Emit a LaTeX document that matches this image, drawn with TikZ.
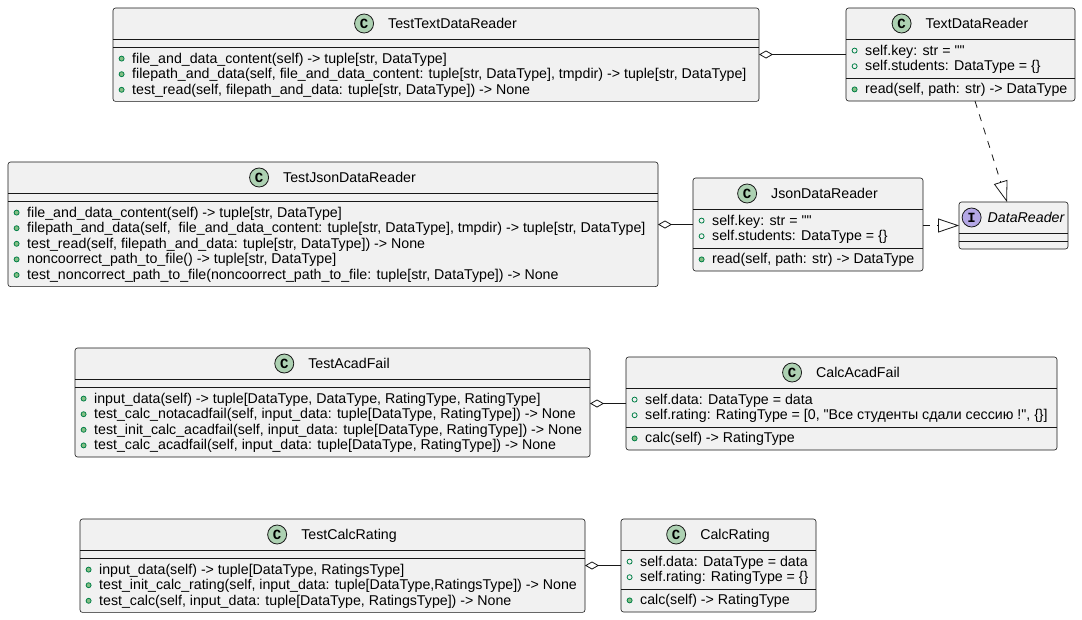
\documentclass[tikz,border=0pt]{standalone}
\usepackage{fontspec}
\newfontfamily\umlfont{Liberation Sans}
\newfontfamily\iconfont{Liberation Mono}
\usetikzlibrary{positioning,arrows.meta}

\definecolor{linecol}{HTML}{181818}
\definecolor{boxfill}{HTML}{F1F1F1}
\definecolor{cfill}{HTML}{ADD1B2}
\definecolor{ifill}{HTML}{B4A7E5}
\definecolor{memgreen}{HTML}{038048}
\definecolor{methfill}{HTML}{84BE84}

\begin{document}
\begin{tikzpicture}[
    x=1pt, y=-1pt,
    % define styles
    box/.style={
        draw=linecol, fill=boxfill, line width=0.6pt,
        rounded corners=2.5pt, anchor=north west,
        inner sep=0, outer sep=0
    },
    sep/.style={draw=linecol, line width=0.6pt},
    title/.style={
        font=\umlfont\fontsize{14.2}{16}\selectfont,
        inner sep=0, text height=9pt, text depth=0pt
    },
    cicon/.style={
        circle, draw=linecol, line width=0.8pt, fill=cfill,
        minimum size=19pt, inner sep=0,
        font=\iconfont\bfseries\fontsize{14}{14}\selectfont
    },
    iicon/.style={cicon, fill=ifill},
    member/.style={
        font=\umlfont\fontsize{14.2}{16}\selectfont,
        anchor=west, inner sep=0, text height=9pt, text depth=0pt
    },
    fdot/.style={circle, draw=memgreen, line width=0.8pt, minimum size=5pt,
        inner sep=0, label distance=7.5pt},
    mdot/.style={fdot, fill=methfill},
    field/.style={member, label={[fdot]left:{}}},
    meth/.style={member, label={[mdot]left:{}}},
    agg/.style={draw=linecol, line width=0.8pt,
        {Diamond[open, length=14pt, width=8pt]}-},
    real/.style={draw=linecol, line width=0.8pt, dash pattern=on 7pt off 7pt,
        -{Triangle[open, length=21pt, width=14pt]}}
]
\useasboundingbox (0,0) rectangle (1082,619);
\fill[white] (0,0) rectangle (1082,619);

% class boxes
\node[box, minimum width=646, minimum height=93.4] (ttdr) at (113,8) {};
\node[box, minimum width=229, minimum height=93] (tdr) at (846,8) {};
\node[box, minimum width=650, minimum height=124.6] (tjdr) at (8,162) {};
\node[box, minimum width=230, minimum height=93] (jdr) at (693,178) {};
\node[box, minimum width=109, minimum height=47] (dr) at (959,202) {};
\node[box, minimum width=515, minimum height=109] (taf) at (75,348) {};
\node[box, minimum width=431, minimum height=93] (caf) at (626,357) {};
\node[box, minimum width=505, minimum height=93.4] (tcr) at (80,519) {};
\node[box, minimum width=195, minimum height=93] (cr) at (621,519) {};

% section lines
\foreach \l/\r/\y in {113/759/39, 113/759/47, 846/1075/39, 846/1075/77.8,
    8/658/193, 8/658/201, 693/923/209, 693/923/247.8, 959/1068/233, 959/1068/241,
    75/590/379, 75/590/387, 626/1057/388, 626/1057/426.8,
    80/585/550, 80/585/558, 621/816/550, 621/816/588.8}
    \draw[sep] (\l,\y) -- (\r,\y);

% headers
\node[title] (ttdr-t) at ([xshift=16.5pt, yshift=-15.5pt]ttdr.north) {TestTextDataReader};
\node[cicon, left=14pt of ttdr-t] (ttdr-c) {C};
\node[title] (tdr-t) at ([xshift=16.5pt, yshift=-15.5pt]tdr.north) {TextDataReader};
\node[cicon, left=14pt of tdr-t] (tdr-c) {C};
\node[title] (tjdr-t) at ([xshift=16.5pt, yshift=-15.5pt]tjdr.north) {TestJsonDataReader};
\node[cicon, left=14pt of tjdr-t] (tjdr-c) {C};
\node[title] (jdr-t) at ([xshift=16.5pt, yshift=-15.5pt]jdr.north) {JsonDataReader};
\node[cicon, left=14pt of jdr-t] (jdr-c) {C};
\node[title, font=\umlfont\itshape\fontsize{14.2}{16}\selectfont] (dr-t)
    at ([xshift=12.5pt, yshift=-15.5pt]dr.north) {DataReader};
\node[iicon, left=6pt of dr-t] (dr-c) {I};
\node[title] (taf-t) at ([xshift=16.5pt, yshift=-15.5pt]taf.north) {TestAcadFail};
\node[cicon, left=14pt of taf-t] (taf-c) {C};
\node[title] (caf-t) at ([xshift=16.5pt, yshift=-15.5pt]caf.north) {CalcAcadFail};
\node[cicon, left=14pt of caf-t] (caf-c) {C};
\node[title] (tcr-t) at ([xshift=16.5pt, yshift=-15.5pt]tcr.north) {TestCalcRating};
\node[cicon, left=14pt of tcr-t] (tcr-c) {C};
\node[title] (cr-t) at ([xshift=16.5pt, yshift=-15.5pt]cr.north) {CalcRating};
\node[cicon, left=14pt of cr-t] (cr-c) {C};

% TestTextDataReader
\node[meth] (ttdr-m1) at (132,58.6) {file\_and\_data\_content(self) -> tuple[str, DataType]};
\node[meth] (ttdr-m2) at (132,74.2) {filepath\_and\_data(self, file\_and\_data\_content: tuple[str, DataType], tmpdir) -> tuple[str, DataType]};
\node[meth] (ttdr-m3) at (132,89.8) {test\_read(self, filepath\_and\_data: tuple[str, DataType]) -> None};

% TextDataReader
\node[field] (tdr-f1) at (865,50.6) {self.key: str = ""};
\node[field] (tdr-f2) at (865,66.2) {self.students: DataType = \{\}};
\node[meth] (tdr-m1) at (865,89.4) {read(self, path: str) -> DataType};

% TestJsonDataReader
\node[meth] (tjdr-m1) at (27,212.6) {file\_and\_data\_content(self) -> tuple[str, DataType]};
\node[meth] (tjdr-m2) at (27,228.2) {filepath\_and\_data(self,\ \ file\_and\_data\_content: tuple[str, DataType], tmpdir) -> tuple[str, DataType]};
\node[meth] (tjdr-m3) at (27,243.8) {test\_read(self, filepath\_and\_data: tuple[str, DataType]) -> None};
\node[meth] (tjdr-m4) at (27,259.4) {noncoorrect\_path\_to\_file() -> tuple[str, DataType]};
\node[meth] (tjdr-m5) at (27,275) {test\_noncorrect\_path\_to\_file(noncoorrect\_path\_to\_file: tuple[str, DataType]) -> None};

% JsonDataReader
\node[field] (jdr-f1) at (712,220.6) {self.key: str = ""};
\node[field] (jdr-f2) at (712,236.2) {self.students: DataType = \{\}};
\node[meth] (jdr-m1) at (712,259.4) {read(self, path: str) -> DataType};

% TestAcadFail
\node[meth] (taf-m1) at (94,398.6) {input\_data(self) -> tuple[DataType, DataType, RatingType, RatingType]};
\node[meth] (taf-m2) at (94,414.2) {test\_calc\_notacadfail(self, input\_data: tuple[DataType, RatingType]) -> None};
\node[meth] (taf-m3) at (94,429.8) {test\_init\_calc\_acadfail(self, input\_data: tuple[DataType, RatingType]) -> None};
\node[meth] (taf-m4) at (94,445.4) {test\_calc\_acadfail(self, input\_data: tuple[DataType, RatingType]) -> None};

% CalcAcadFail
\node[field] (caf-f1) at (645,399.6) {self.data: DataType = data};
\node[field] (caf-f2) at (645,415.2) {self.rating: RatingType = [0, "Все студенты сдали сессию !", \{\}]};
\node[meth] (caf-m1) at (645,438.4) {calc(self) -> RatingType};

% TestCalcRating
\node[meth] (tcr-m1) at (99,569.6) {input\_data(self) -> tuple[DataType, RatingsType]};
\node[meth] (tcr-m2) at (99,585.2) {test\_init\_calc\_rating(self, input\_data: tuple[DataType,RatingsType]) -> None};
\node[meth] (tcr-m3) at (99,600.8) {test\_calc(self, input\_data: tuple[DataType, RatingsType]) -> None};

% CalcRating
\node[field] (cr-f1) at (640,561.6) {self.data: DataType = data};
\node[field] (cr-f2) at (640,577.2) {self.rating: RatingType = \{\}};
\node[meth] (cr-m1) at (640,600.4) {calc(self) -> RatingType};

% aggregations from the tests
\draw[agg] (ttdr.east |- tdr.west) -- (tdr.west);
\draw[agg] (tjdr.east |- jdr.west) -- (jdr.west);
\draw[agg] (taf.east |- caf.west) -- (caf.west);
\draw[agg] (tcr.east |- cr.west) -- (cr.west);

% realizations of the interface
\draw[real] (jdr.east |- dr.west) -- (dr.west);
\draw[real] ([xshift=14.5pt]tdr.south) -- ([xshift=-6.5pt]dr.north);
\end{tikzpicture}
\end{document}
